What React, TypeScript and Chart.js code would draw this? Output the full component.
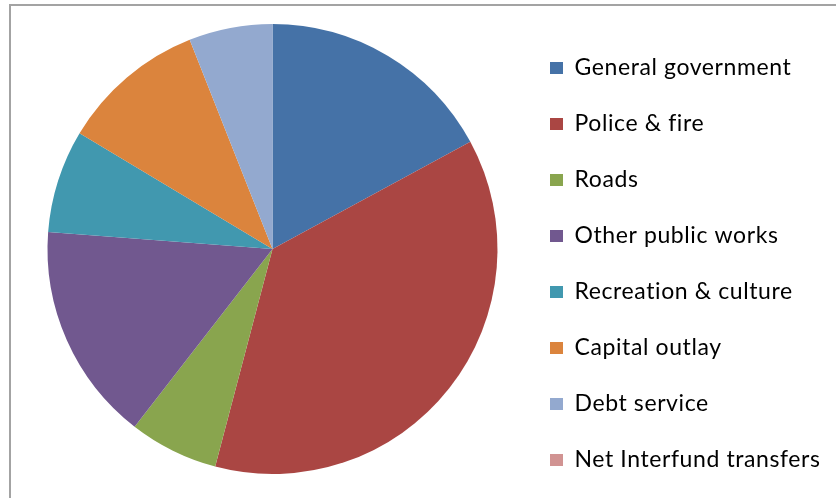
import React, { useEffect, useRef } from "react";
import { Chart, registerables } from "chart.js";

Chart.register(...registerables);

const categories: string[] = [
  "General government",
  "Police & fire",
  "Roads",
  "Other public works",
  "Recreation & culture",
  "Capital outlay",
  "Debt service",
  "Net Interfund transfers",
];

const shares: number[] = [17.1, 37.0, 6.4, 15.7, 7.4, 10.4, 6.0, 0];

const sliceColors: string[] = [
  "#4572A7",
  "#AA4643",
  "#89A54E",
  "#71588F",
  "#4198AF",
  "#DB843D",
  "#93A9CF",
  "#D19392",
];

const CANVAS_W = 836;
const CANVAS_H = 580;
const SHIFT = 41;
const LEGEND_W = 319;

const legendWidthPlugin = {
  id: "legendWidthFix",
  beforeLayout(chart: any) {
    const lg = chart.legend;
    if (lg && !lg.__fixed) {
      const orig = lg.fit.bind(lg);
      lg.fit = function () {
        orig();
        this.width = LEGEND_W;
      };
      lg.__fixed = true;
    }
  },
  beforeDraw(chart: any) {
    const ctx = chart.ctx as any;
    if ("letterSpacing" in ctx) ctx.letterSpacing = "0.6px";
  },
};

export default function App() {
  const ref = useRef<HTMLCanvasElement | null>(null);

  useEffect(() => {
    if (!ref.current) return;
    const chart = new Chart(ref.current, {
      type: "pie",
      data: {
        labels: categories,
        datasets: [
          {
            data: shares,
            backgroundColor: sliceColors,
            borderWidth: 0,
            hoverOffset: 0,
            offset: 0,
          } as any,
        ],
      },
      options: {
        responsive: false,
        animation: false,
        radius: 225,
        layout: { padding: { left: 28, right: 0, top: 0, bottom: 0 } },
        plugins: {
          tooltip: { enabled: false },
          legend: {
            position: "right",
            align: "start",
            title: {
              display: true,
              text: "",
              font: { size: 10, lineHeight: 1 },
              padding: { top: 54.5, bottom: 0 },
            },
            labels: {
              boxWidth: 13,
              boxHeight: 12,
              padding: 33,
              color: "#000000",
              font: { family: "Lato", size: 23 },
            },
          },
        },
      } as any,
      plugins: [legendWidthPlugin],
    });
    return () => chart.destroy();
  }, []);

  return (
    <div
      style={{
        position: "fixed",
        left: 0,
        top: 0,
        width: CANVAS_W,
        height: 498,
        overflow: "hidden",
        background: "#ffffff",
      }}
    >
      <canvas
        ref={ref}
        width={CANVAS_W}
        height={CANVAS_H}
        style={{ position: "absolute", left: 0, top: -SHIFT, width: CANVAS_W, height: CANVAS_H }}
      />
      <div
        style={{
          position: "absolute",
          left: 9,
          top: 4,
          width: CANVAS_W,
          height: 600,
          borderTop: "2px solid #a3a3a3",
          borderLeft: "2px solid #a3a3a3",
          pointerEvents: "none",
        }}
      />
    </div>
  );
}
